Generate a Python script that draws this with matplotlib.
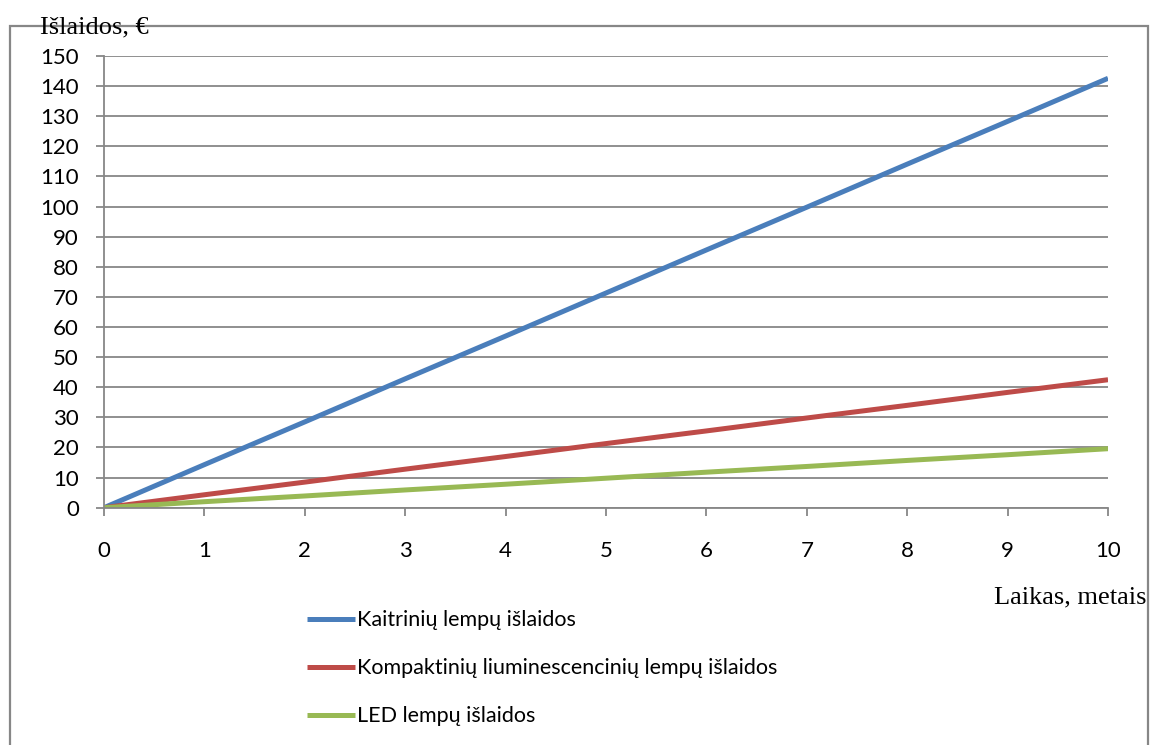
import matplotlib.pyplot as plt
from matplotlib.patches import Rectangle

# metai ir sukauptos islaidos, EUR
metai = [0, 1, 2, 3, 4, 5, 6, 7, 8, 9, 10]
kaitrines = [0, 14.3, 28.5, 42.8, 57.0, 71.3, 85.6, 99.8, 114.1, 128.3, 142.6]
kompaktines = [0, 4.3, 8.5, 12.8, 17.0, 21.3, 25.5, 29.8, 34.0, 38.3, 42.5]
led = [0, 2.0, 3.9, 5.9, 7.8, 9.8, 11.8, 13.7, 15.7, 17.6, 19.6]

pavadinimai = ['Kaitrinių lempų išlaidos',
               'Kompaktinių liuminescencinių lempų išlaidos',
               'LED lempų išlaidos']
spalvos = ['#4A7EBB', '#BE4B48', '#98B954']
pilka = '#878787'

plt.rcParams['font.family'] = ['Lato', 'DejaVu Sans']

fig = plt.figure(figsize=(11.5, 7.45), dpi=100)
ax = fig.add_axes([0.0904, 0.3185, 0.8731, 0.6063])

for y, spalva, pav in zip([kaitrines, kompaktines, led], spalvos, pavadinimai):
    ax.plot(metai, y, color=spalva, lw=3.6, label=pav, solid_capstyle='butt')

ax.set_xlim(0, 10)
ax.set_ylim(0, 150)
ax.set_xticks(range(0, 11))
ax.set_yticks(range(0, 151, 10))
ax.yaxis.grid(True, color=pilka, lw=1.3)
ax.set_axisbelow(True)
for s in ['top', 'right']:
    ax.spines[s].set_visible(False)
for s in ['left', 'bottom']:
    ax.spines[s].set_color(pilka)
    ax.spines[s].set_linewidth(1.3)
ax.tick_params(axis='y', length=6, width=1.3, color=pilka, labelsize=16, pad=12)
ax.tick_params(axis='x', length=6, width=1.3, color=pilka, labelsize=16, pad=18)

# rėmelis aplink visą diagramą
fig.patches.append(Rectangle((9.5 / 1150, -0.05), 1138.5 / 1150, 1.05 - 26 / 745,
                             transform=fig.transFigure, fill=False,
                             edgecolor=pilka, lw=1.6))

fig.text(40 / 1150, 1 - 33 / 745, 'Išlaidos, €', family='Liberation Serif',
         fontsize=19, ha='left', va='baseline')
fig.text(1147 / 1150, 1 - 603 / 745, 'Laikas, metais', family='Liberation Serif',
         fontsize=19, ha='right', va='baseline')

fig.legend(loc='upper left', bbox_to_anchor=(288 / 1150, 1 - 591 / 745),
           frameon=False, fontsize=15.5, handlelength=2.2, handletextpad=0.1,
           labelspacing=1.3)

fig.savefig('out.png', dpi=100)
